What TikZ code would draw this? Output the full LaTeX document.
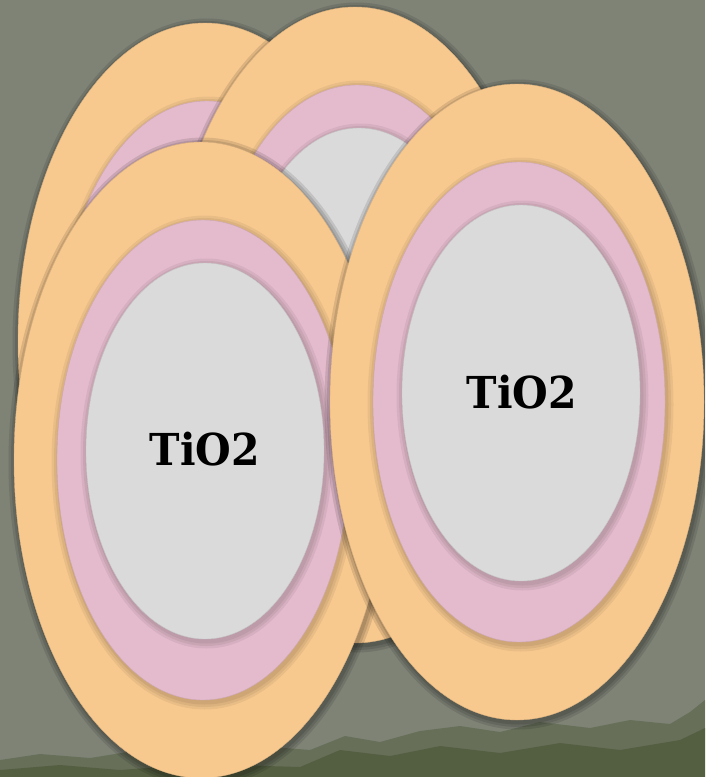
\documentclass[tikz,border=0pt]{standalone}
\usepackage{fontspec}
\newfontfamily\labelfont{DejaVu Serif}
\definecolor{bgc}{RGB}{126,131,118}
\definecolor{orangec}{RGB}{248,201,143}
\definecolor{pinkc}{RGB}{228,187,204}
\definecolor{grayc}{RGB}{218,218,218}
\definecolor{groundc}{RGB}{70,82,46}
\tikzset{
  outershadow/.style={fill=black, fill opacity=0.11},
  innershadow/.style={fill=black, fill opacity=0.06},
  orangefill/.style={fill=orangec, draw=orangec!88!black, line width=0.4pt},
  pinkfill/.style={fill=pinkc, draw=pinkc!90!black, line width=0.4pt},
  grayfill/.style={fill=grayc, draw=grayc!90!black, line width=0.4pt},
  tlabel/.style={font=\labelfont\bfseries\fontsize{44}{44}\selectfont, text=black, inner sep=0pt},
}
\newcommand{\shadowell}[6]{%
  \foreach \dd in {7,4.5,2}{\fill[#6] (#2+1.5,#3+2.5) ellipse [x radius=#4pt+\dd pt, y radius=#5pt+\dd pt];}
  \path[#1] (#2,#3) ellipse [x radius=#4pt, y radius=#5pt];
}
\newcommand{\ringgroup}[2]{%
  \shadowell{orangefill}{#1}{#2}{187}{318}{outershadow}
  \shadowell{pinkfill}{#1+2}{#2}{146}{240}{innershadow}
  \shadowell{grayfill}{#1+4}{#2-9}{119}{188}{innershadow}
}
\begin{document}
\begin{tikzpicture}[x=1pt,y=-1pt]
  \useasboundingbox (0,0) rectangle (705,777);
  \clip (0,0) rectangle (705,777);
  \fill[bgc] (0,0) rectangle (705,777);
  % textured dark ground at the bottom
  \fill[groundc, fill opacity=0.4] (0,760) -- (40,754) -- (90,758) -- (140,750) -- (200,755) -- (260,746) -- (310,750) -- (345,736) -- (380,742) -- (420,731) -- (460,726) -- (500,732) -- (540,722) -- (590,728) -- (630,720) -- (670,724) -- (690,712) -- (705,700) -- (705,777) -- (0,777) -- cycle;
  \fill[groundc, fill opacity=0.55] (0,770) -- (60,765) -- (120,770) -- (200,764) -- (300,767) -- (340,750) -- (390,756) -- (440,746) -- (500,753) -- (560,743) -- (620,750) -- (680,740) -- (705,728) -- (705,777) -- (0,777) -- cycle;
  % back to front
  \ringgroup{205}{341}
  \ringgroup{355}{325}
  \ringgroup{201}{460}
  \ringgroup{517}{402}
  \node[tlabel] (t1) at (205,449) {\scalebox{0.93}[1]{TiO2}};
  \node[tlabel] (t2) at (522,392) {\scalebox{0.93}[1]{TiO2}};
\end{tikzpicture}
\end{document}
